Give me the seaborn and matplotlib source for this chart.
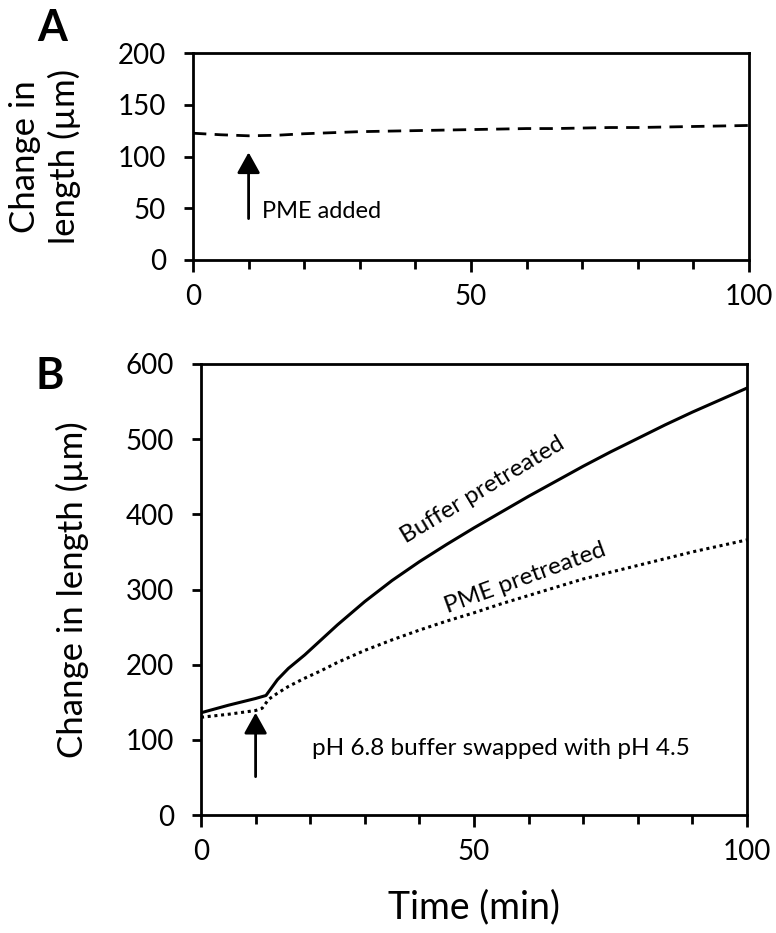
import numpy as np
import pandas as pd
import matplotlib
matplotlib.use("Agg")
import matplotlib.pyplot as plt
import seaborn as sns
from matplotlib.ticker import MultipleLocator

# ---- data ----
time_a = [0, 5, 10, 15, 20, 25, 30, 35, 40, 45, 50, 55, 60, 65, 70, 75, 80, 85, 90, 95, 100]
length_a = [122.5, 121, 120, 120.5, 122, 123, 124, 124.5, 125, 125.5, 126, 126.5,
            127, 127, 127.5, 128, 128, 128.5, 129, 129.5, 130]

time_buffer = [0, 5, 10, 11.9, 13, 14, 16, 19, 22, 25, 30, 35, 40, 45, 50, 55, 60,
               65, 70, 75, 80, 85, 90, 95, 100]
length_buffer = [136, 146, 155, 159, 170, 180, 195, 213, 233, 253, 284, 312, 337, 360,
                 382, 403, 424, 444, 464, 483, 501, 519, 536, 552, 568]

time_pme = [0, 5, 10, 11.2, 12.4, 14, 16, 19, 22, 25, 30, 35, 40, 45, 50, 55, 60,
            65, 70, 75, 80, 85, 90, 95, 100]
length_pme = [130, 134, 139, 142, 154, 162, 171, 182, 192, 203, 219, 233, 246, 258,
              269, 281, 292, 303, 314, 323, 332, 341, 350, 358, 366]

yticks_a = [0, 50, 100, 150, 200]
yticks_b = [0, 100, 200, 300, 400, 500, 600]
xticks = [0, 50, 100]

# ---- style ----
sns.set_style("ticks")
plt.rcParams.update({
    'font.family': ['Lato', 'DejaVu Sans'],
    'text.color': 'black',
    'axes.labelcolor': 'black',
    'xtick.color': 'black', 'ytick.color': 'black',
})

fig = plt.figure(figsize=(7.76, 9.33), dpi=100)
axA = fig.add_axes([193/776, 1-260/933, 556/776, 207/933])
axB = fig.add_axes([201/776, 1-815/933, 546/776, 451/933])

dfA = pd.DataFrame({"t": time_a, "v": length_a})
sns.lineplot(data=dfA, x="t", y="v", ax=axA, color="black", lw=2.0,
             linestyle=(0, (4.8, 3)))

dfB1 = pd.DataFrame({"t": time_buffer, "v": length_buffer})
dfB2 = pd.DataFrame({"t": time_pme, "v": length_pme})
sns.lineplot(data=dfB1, x="t", y="v", ax=axB, color="black", lw=2.2)
sns.lineplot(data=dfB2, x="t", y="v", ax=axB, color="black", lw=2.2,
             linestyle=(0, (1, 1.2)))

for ax, yt, ymax in [(axA, yticks_a, 200), (axB, yticks_b, 600)]:
    ax.set_xlim(0, 100)
    ax.set_ylim(0, ymax)
    ax.set_xticks(xticks)
    ax.set_yticks(yt)
    ax.xaxis.set_minor_locator(MultipleLocator(10))
    for s in ax.spines.values():
        s.set_visible(True)
        s.set_color("black")
        s.set_linewidth(2.0)
    ax.tick_params(axis='x', which='major', direction='out', length=8.5, width=2,
                   labelsize=20, pad=9)
    ax.tick_params(axis='x', which='minor', direction='out', length=6.5, width=2)
    ax.tick_params(axis='y', which='major', direction='out', length=6.5, width=2,
                   labelsize=20, pad=13)
    ax.set_xlabel("")
    ax.grid(False)

axA.set_ylabel("Change in\nlength (µm)", fontsize=25, linespacing=1.25)
axA.yaxis.label.set_va('center')
axA.yaxis.set_label_coords((45-193)/556, 0.5)

axB.set_ylabel("Change in length (µm)", fontsize=25)
axB.yaxis.label.set_va('center')
axB.yaxis.set_label_coords((72-201)/546, 0.5)

axB.set_xlabel("Time (min)", fontsize=27)
axB.xaxis.label.set_va('center')
axB.xaxis.set_label_coords(0.5, -(907-815)/451)

# arrows and annotations
arrow = dict(arrowstyle='-|>,head_length=0.9,head_width=0.5', lw=2, color='black',
             shrinkA=0, shrinkB=0, mutation_scale=14)
axA.annotate("", xy=(10, 104), xytext=(10, 40), arrowprops=arrow)
axA.text(12.5, 47, "PME added", fontsize=17, va='center', ha='left')

axB.annotate("", xy=(10, 136), xytext=(10, 51), arrowprops=arrow)
axB.text(20.3, 89, "pH 6.8 buffer swapped with pH 4.5", fontsize=17.5, va='center', ha='left')

axB.text(51.5, 432, "Buffer pretreated", fontsize=17.5, rotation=31, rotation_mode='anchor',
         ha='center', va='center')
axB.text(59.3, 315, "PME pretreated", fontsize=17.5, rotation=20, rotation_mode='anchor',
         ha='center', va='center')

fig.text(52/776, 1-28/933, "A", fontsize=31, fontweight='bold', ha='center', va='center')
fig.text(50/776, 1-376/933, "B", fontsize=31, fontweight='bold', ha='center', va='center')

fig.savefig("out.png", dpi=100)
